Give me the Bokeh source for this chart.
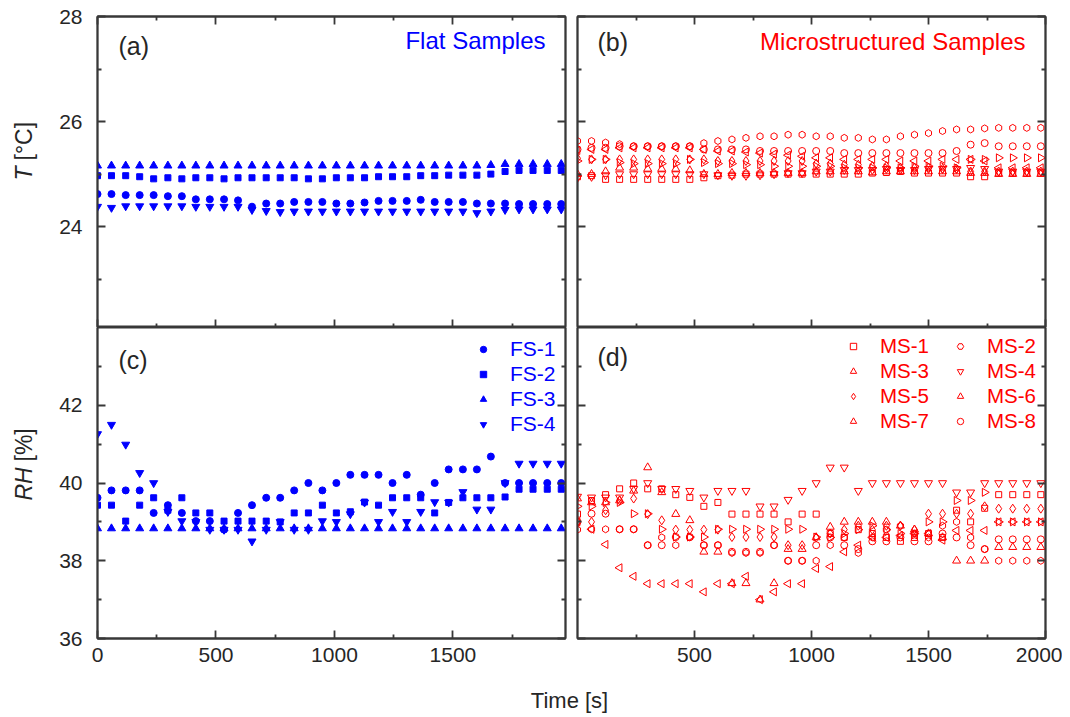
from math import pi
from bokeh.plotting import figure
from bokeh.models import Range1d, LinearAxis, FixedTicker, Label, Legend, LegendItem, CustomLabelingPolicy
from bokeh.layouts import column, row
from bokeh.embed import file_html
from bokeh.resources import INLINE

# ---------------- data ----------------
t_fs = [0, 59, 119, 178, 237, 297, 356, 415, 474, 534, 593, 652, 712, 771, 830, 890, 949,
        1008, 1067, 1127, 1186, 1245, 1305, 1364, 1423, 1482, 1542, 1601, 1660, 1720, 1779, 1838, 1898, 1957]
t_ms = [0, 60, 120, 180, 240, 300, 360, 420, 480, 540, 600, 660, 720, 780, 840, 900, 960,
        1020, 1080, 1140, 1200, 1260, 1320, 1380, 1440, 1500, 1560, 1620, 1680, 1740, 1800, 1860, 1920, 1980]

fs1_T = [24.62, 24.62, 24.60, 24.60, 24.60, 24.58, 24.58, 24.52, 24.52, 24.52, 24.50, 24.38, 24.44, 24.44, 24.47, 24.47, 24.47,
         24.44, 24.44, 24.46, 24.49, 24.49, 24.49, 24.51, 24.47, 24.47, 24.47, 24.44, 24.44, 24.44, 24.43, 24.43, 24.43, 24.43]
fs2_T = [24.97, 24.97, 24.97, 24.95, 24.91, 24.93, 24.91, 24.93, 24.93, 24.91, 24.93, 24.93, 24.93, 24.93, 24.93, 24.91, 24.91,
         24.93, 24.93, 24.93, 24.95, 24.95, 24.95, 24.97, 24.97, 24.98, 24.98, 24.98, 25.00, 25.05, 25.07, 25.07, 25.07, 25.07]
fs3_T = [25.16, 25.16, 25.16, 25.16, 25.16, 25.16, 25.16, 25.16, 25.16, 25.16, 25.16, 25.16, 25.16, 25.16, 25.16, 25.16, 25.16,
         25.16, 25.16, 25.16, 25.16, 25.16, 25.16, 25.16, 25.16, 25.16, 25.16, 25.16, 25.17, 25.19, 25.19, 25.19, 25.19, 25.19]
fs4_T = [24.38, 24.36, 24.39, 24.39, 24.39, 24.39, 24.39, 24.38, 24.38, 24.38, 24.38, 24.32, 24.30, 24.28, 24.29, 24.29, 24.29,
         24.29, 24.29, 24.29, 24.29, 24.29, 24.29, 24.29, 24.29, 24.29, 24.29, 24.26, 24.29, 24.32, 24.33, 24.33, 24.33, 24.33]

fs1_RH = [39.62, 39.81, 39.81, 39.81, 39.23, 39.43, 39.23, 39.02, 39.02, 38.80, 39.23, 39.43, 39.62, 39.62, 39.81, 40.00, 39.81,
          40.00, 40.21, 40.21, 40.21, 40.00, 40.21, 39.70, 40.00, 40.35, 40.35, 40.35, 40.68, 40.00, 40.00, 40.00, 40.00, 40.00]
fs2_RH = [39.43, 39.43, 39.02, 39.43, 39.62, 39.30, 39.62, 39.23, 39.23, 39.02, 39.02, 39.02, 39.02, 39.00, 39.23, 39.23, 39.43,
          39.23, 39.26, 39.51, 39.43, 39.62, 39.62, 39.62, 39.23, 39.50, 39.62, 39.62, 39.62, 39.64, 39.84, 39.84, 39.84, 39.84]
fs3_RH = [38.83, 38.83, 38.83, 38.83, 38.83, 38.83, 38.83, 38.83, 38.83, 38.83, 38.83, 38.83, 38.83, 38.83, 38.83, 38.83, 38.83,
          38.83, 38.83, 38.83, 38.83, 38.83, 38.83, 38.83, 38.83, 38.83, 38.83, 38.83, 38.83, 38.83, 38.83, 38.83, 38.83, 38.83]
fs4_RH = [41.26, 41.50, 40.99, 40.26, 40.00, 39.26, 39.02, 39.00, 38.80, 38.80, 38.80, 38.50, 38.80, 39.00, 38.80, 38.80, 39.02,
          39.00, 39.20, 39.50, 39.00, 39.26, 39.00, 39.26, 39.51, 39.50, 39.77, 39.32, 39.32, 40.00, 40.50, 40.50, 40.50, 40.50]

ms1_T = [24.95, 24.97, 24.90, 24.90, 24.90, 24.90, 24.90, 24.90, 24.90, 24.93, 24.97, 24.98, 25.00, 25.00, 25.00, 25.00, 25.00,
         25.00, 25.00, 25.00, 25.00, 25.02, 25.03, 25.05, 25.02, 25.02, 25.02, 25.02, 24.95, 24.95, 25.02, 25.02, 25.02, 25.02]
ms2_T = [25.63, 25.63, 25.60, 25.57, 25.53, 25.53, 25.53, 25.53, 25.53, 25.59, 25.63, 25.66, 25.69, 25.72, 25.72, 25.75, 25.75,
         25.72, 25.72, 25.69, 25.69, 25.66, 25.66, 25.72, 25.75, 25.78, 25.82, 25.85, 25.85, 25.87, 25.88, 25.88, 25.88, 25.88]
ms3_T = [25.00, 25.00, 25.05, 25.12, 25.12, 25.10, 25.10, 25.10, 25.07, 25.00, 25.00, 25.02, 25.02, 25.02, 25.02, 25.02, 25.02,
         25.05, 25.05, 25.05, 25.05, 25.03, 25.05, 25.05, 25.05, 25.05, 25.05, 25.05, 25.02, 25.02, 25.00, 25.00, 25.00, 25.00]
ms4_T = [24.93, 24.95, 24.98, 25.00, 25.00, 25.00, 25.00, 25.00, 25.00, 25.00, 24.98, 24.97, 24.97, 24.98, 25.00, 25.02, 25.02,
         25.05, 25.05, 25.08, 25.08, 25.08, 25.10, 25.08, 25.08, 25.10, 25.10, 25.10, 25.12, 25.10, 25.05, 25.05, 25.05, 25.05]
ms5_T = [25.30, 25.28, 25.28, 25.28, 25.28, 25.28, 25.28, 25.28, 25.28, 25.28, 25.25, 25.25, 25.25, 25.25, 25.25, 25.25, 25.25,
         25.20, 25.20, 25.18, 25.18, 25.15, 25.15, 25.12, 25.12, 25.12, 25.10, 25.10, 25.05, 25.05, 25.05, 25.05, 25.05, 25.05]
ms6_T = [25.45, 25.47, 25.47, 25.50, 25.50, 25.50, 25.50, 25.50, 25.50, 25.47, 25.44, 25.44, 25.42, 25.40, 25.38, 25.36, 25.34,
         25.31, 25.31, 25.28, 25.28, 25.28, 25.28, 25.25, 25.25, 25.25, 25.28, 25.28, 25.28, 25.25, 25.12, 25.12, 25.12, 25.12]
ms7_T = [25.25, 25.28, 25.28, 25.22, 25.20, 25.20, 25.20, 25.20, 25.28, 25.22, 25.20, 25.20, 25.18, 25.18, 25.15, 25.15, 25.15,
         25.15, 25.15, 25.12, 25.12, 25.12, 25.12, 25.12, 25.15, 25.15, 25.15, 25.12, 25.28, 25.28, 25.31, 25.31, 25.31, 25.31]
ms8_T = [25.47, 25.50, 25.50, 25.53, 25.53, 25.53, 25.53, 25.53, 25.53, 25.47, 25.47, 25.47, 25.47, 25.44, 25.44, 25.44, 25.44,
         25.44, 25.44, 25.40, 25.40, 25.40, 25.40, 25.40, 25.40, 25.40, 25.40, 25.44, 25.56, 25.59, 25.53, 25.53, 25.53, 25.53]

ms1_RH = [39.20, 39.55, 39.70, 39.85, 40.00, 39.85, 39.85, 39.70, 39.63, 39.40, 39.50, 39.20, 39.20, 39.20, 39.20, 39.00, 39.20,
          39.20, 38.70, 38.60, 38.80, 38.70, 38.60, 38.50, 38.60, 38.70, 38.60, 39.30, 39.00, 39.35, 39.70, 39.70, 39.70, 39.70]
ms2_RH = [38.80, 38.81, 38.81, 38.81, 38.81, 38.40, 38.60, 38.40, 38.60, 38.40, 38.40, 38.20, 38.20, 38.20, 38.40, 38.00, 38.00,
          38.00, 38.40, 38.60, 38.20, 38.60, 38.80, 38.90, 38.70, 38.60, 38.90, 39.00, 38.60, 38.30, 38.00, 38.00, 38.00, 38.00]
ms3_RH = [39.60, 39.50, 39.50, 39.55, 39.80, 40.40, 39.76, 39.20, 39.04, 38.23, 38.23, 37.42, 37.42, 37.00, 37.42, 38.30, 38.30,
          38.60, 38.87, 39.00, 39.00, 39.00, 39.00, 38.90, 38.80, 38.70, 38.60, 38.00, 38.00, 38.00, 38.35, 38.35, 38.35, 38.35]
ms4_RH = [39.65, 39.63, 39.63, 39.63, 39.85, 40.00, 39.85, 39.85, 39.80, 39.63, 39.80, 39.80, 39.80, 39.40, 39.40, 39.57, 39.80,
          40.00, 40.40, 40.40, 39.80, 40.00, 40.00, 40.00, 40.00, 40.00, 40.00, 39.76, 39.76, 40.00, 40.00, 40.00, 40.00, 40.00]
ms5_RH = [39.00, 39.00, 39.30, 39.55, 39.60, 39.20, 39.04, 38.80, 38.80, 38.80, 38.80, 38.61, 38.61, 38.61, 38.61, 38.40, 38.40,
          38.60, 38.70, 38.80, 38.90, 38.80, 38.90, 38.90, 38.80, 39.21, 39.21, 39.21, 39.21, 39.40, 39.34, 39.34, 39.34, 39.34]
ms6_RH = [39.00, 38.81, 38.42, 37.82, 37.60, 37.41, 37.41, 37.41, 37.41, 37.20, 37.41, 37.41, 37.60, 37.00, 37.20, 37.41, 37.41,
          37.80, 37.85, 38.23, 38.40, 38.60, 38.60, 38.65, 38.70, 38.70, 38.53, 38.78, 38.78, 38.78, 39.00, 39.00, 39.00, 39.00]
ms7_RH = [39.40, 39.40, 39.50, 39.50, 39.21, 39.21, 38.81, 38.61, 38.61, 38.61, 38.81, 38.81, 38.81, 38.81, 38.81, 38.81, 38.81,
          38.61, 38.60, 38.70, 38.80, 38.90, 38.80, 38.70, 38.70, 39.00, 39.00, 39.55, 39.55, 39.76, 39.00, 39.00, 39.00, 39.00]
ms8_RH = [39.00, 39.21, 39.21, 38.81, 38.81, 38.40, 38.40, 38.61, 38.61, 38.40, 38.40, 38.23, 38.23, 38.23, 38.40, 38.00, 38.00,
          38.40, 38.60, 38.40, 38.30, 38.50, 38.50, 38.60, 38.50, 38.50, 38.70, 38.60, 38.40, 38.30, 38.55, 38.55, 38.55, 38.55]

fs_labels = ["FS-1", "FS-2", "FS-3", "FS-4"]
ms_labels = ["MS-1", "MS-2", "MS-3", "MS-4", "MS-5", "MS-6", "MS-7", "MS-8"]
x_ticks_left = [0, 500, 1000, 1500]
x_ticks_right = [500, 1000, 1500, 2000]
x_minor = [250, 750, 1250, 1750]
T_ticks = [24, 26, 28]
T_minor = [23, 25, 27]
RH_ticks = [36, 38, 40, 42]
RH_minor = [37, 39, 41, 43]

# ---------------- style ----------------
FONT = "Liberation Sans"
AX = "#383838"
TXT = "#262626"
BLUE = "#0000FF"
RED = "#FF0000"
LW = 1.8
NO_LABELS = CustomLabelingPolicy(code="return []")


def make_fig(w, h, xr, yr, mb):
    p = figure(width=w, height=h, x_range=Range1d(*xr), y_range=Range1d(*yr),
               output_backend="svg", toolbar_location=None,
               x_axis_location=None, y_axis_location=None,
               min_border_left=mb[0], min_border_right=mb[1],
               min_border_top=mb[2], min_border_bottom=mb[3])
    p.grid.visible = False
    p.outline_line_color = AX
    p.outline_line_width = LW
    p.background_fill_color = "white"
    p.border_fill_color = "white"
    return p


def blank_fig(w, h, mb=(0, 0, 0, 0)):
    p = figure(width=w, height=h, x_range=Range1d(0, 1), y_range=Range1d(0, 1),
               output_backend="svg", toolbar_location=None,
               x_axis_location=None, y_axis_location=None,
               min_border_left=mb[0], min_border_right=mb[1],
               min_border_top=mb[2], min_border_bottom=mb[3])
    p.grid.visible = False
    p.outline_line_color = None
    return p


def add_axis(p, side, ticks, minor, labels=False, standoff=0):
    ax = LinearAxis(ticker=FixedTicker(ticks=ticks, minor_ticks=minor))
    ax.axis_line_color = AX
    ax.axis_line_width = LW
    ax.major_tick_line_color = AX
    ax.major_tick_line_width = LW
    ax.minor_tick_line_color = AX
    ax.minor_tick_line_width = LW
    ax.major_tick_in = 8
    ax.major_tick_out = 0
    ax.minor_tick_in = 4
    ax.minor_tick_out = 0
    ax.major_label_text_font = FONT
    ax.major_label_text_color = TXT
    if labels:
        ax.major_label_text_font_size = "21px"
        ax.major_label_standoff = standoff
    else:
        ax.major_label_text_font_size = "0px"
        ax.major_label_policy = NO_LABELS
        ax.major_label_standoff = 0
    p.add_layout(ax, side)
    return ax


def text_label(p, x, y, text, size, color=TXT, align="left", baseline="middle", angle=0.0, style="normal"):
    lab = Label(x=x, y=y, x_units="screen", y_units="screen", text=text,
                text_font=FONT, text_font_size=size, text_color=color,
                text_align=align, text_baseline=baseline, angle=angle,
                text_font_style=style)
    p.add_layout(lab)
    return lab


XL = (0, 1975)
XR = (0, 2000)
YT = (22.08, 28)
YB = (36, 44)

p_a = make_fig(531, 327, XL, YT, (57, 6, 16, 0))
p_b = make_fig(491, 327, XR, YT, (6, 17, 16, 0))
p_c = make_fig(531, 351, XL, YB, (57, 6, 0, 40))
p_d = make_fig(491, 351, XR, YB, (6, 17, 0, 40))

# axes
add_axis(p_a, "left", T_ticks, T_minor, True, 15)
add_axis(p_a, "right", T_ticks, T_minor)
add_axis(p_a, "above", x_ticks_left, x_minor)
add_axis(p_a, "below", x_ticks_left, x_minor)

add_axis(p_b, "left", T_ticks, T_minor)
add_axis(p_b, "right", T_ticks, T_minor)
add_axis(p_b, "above", x_ticks_right, x_minor)
add_axis(p_b, "below", x_ticks_right, x_minor)

add_axis(p_c, "left", RH_ticks, RH_minor, True, 15)
add_axis(p_c, "right", RH_ticks, RH_minor)
add_axis(p_c, "below", x_ticks_left, x_minor, True, 9)

add_axis(p_d, "left", RH_ticks, RH_minor)
add_axis(p_d, "right", RH_ticks, RH_minor)
add_axis(p_d, "below", x_ticks_right, x_minor, True, 9)

# flat samples (filled blue)
fs_T = [fs1_T, fs2_T, fs3_T, fs4_T]
fs_RH = [fs1_RH, fs2_RH, fs3_RH, fs4_RH]
fs_markers = [("circle", 7, 0.0), ("square", 6, 0.0), ("triangle", 8, 0.0), ("inverted_triangle", 8, 0.0)]
fs_rends = []
for yT, yR, (mk, sz, ang) in zip(fs_T, fs_RH, fs_markers):
    p_a.scatter(t_fs, yT, marker=mk, size=sz, angle=ang, fill_color=BLUE, line_color=BLUE, line_width=1)
    r = p_c.scatter(t_fs, yR, marker=mk, size=sz, angle=ang, fill_color=BLUE, line_color=BLUE, line_width=1)
    fs_rends.append(r)

# microstructured samples (open red)
ms_T = [ms1_T, ms2_T, ms3_T, ms4_T, ms5_T, ms6_T, ms7_T, ms8_T]
ms_RH = [ms1_RH, ms2_RH, ms3_RH, ms4_RH, ms5_RH, ms6_RH, ms7_RH, ms8_RH]
ms_markers = [("square", 6, 0.0), ("hex", 7, pi / 2), ("triangle", 8, 0.0), ("inverted_triangle", 8, 0.0),
              ("diamond", 9, 0.0), ("triangle", 8, pi / 2), ("triangle", 8, -pi / 2), ("circle", 7, 0.0)]
ms_rends = []
for yT, yR, (mk, sz, ang) in zip(ms_T, ms_RH, ms_markers):
    p_b.scatter(t_ms, yT, marker=mk, size=sz, angle=ang, fill_color=None, line_color=RED, line_width=1)
    r = p_d.scatter(t_ms, yR, marker=mk, size=sz, angle=ang, fill_color=None, line_color=RED, line_width=1)
    ms_rends.append(r)


def make_legend(items, loc, color, standoff, size):
    leg = Legend(items=items, location=loc)
    leg.label_text_font = FONT
    leg.label_text_font_size = size
    leg.label_text_color = color
    leg.glyph_width = 16
    leg.glyph_height = 16
    leg.label_height = 20
    leg.label_standoff = standoff
    leg.spacing = 1
    leg.padding = 0
    leg.margin = 0
    leg.border_line_color = None
    leg.background_fill_alpha = 0
    return leg


leg_c = make_legend([LegendItem(label=l, renderers=[r]) for l, r in zip(fs_labels, fs_rends)], (378, 202), BLUE, 19, "21px")
p_c.add_layout(leg_c, "center")
leg_d1 = make_legend([LegendItem(label=ms_labels[i], renderers=[ms_rends[i]]) for i in (0, 2, 4, 6)], (268, 205), RED, 19, "20.5px")
leg_d2 = make_legend([LegendItem(label=ms_labels[i], renderers=[ms_rends[i]]) for i in (1, 3, 5, 7)], (375, 205), RED, 19, "20.5px")
p_d.add_layout(leg_d1, "center")
p_d.add_layout(leg_d2, "center")

# panel texts
text_label(p_a, 21, 282, "(a)", "25px")
text_label(p_a, 448, 287, "Flat Samples", "24px", color=BLUE, align="right")
text_label(p_b, 20, 286, "(b)", "25px")
text_label(p_b, 448, 286, "Microstructured Samples", "24px", color=RED, align="right")
text_label(p_c, 21, 279, "(c)", "25px")
text_label(p_d, 20, 282, "(d)", "25px")

# y-axis titles (italic symbol + unit) in narrow side figures, frames aligned with the panels
p_yt = blank_fig(40, 327, (0, 0, 16, 0))
p_yb = blank_fig(40, 351, (0, 0, 0, 40))
text_label(p_yt, 23, 147, "T", "23px", angle=pi / 2, style="italic")
text_label(p_yt, 23, 167, "[\u00b0C]", "23px", angle=pi / 2)
text_label(p_yb, 23, 138, "RH", "23px", angle=pi / 2, style="italic")
text_label(p_yb, 23, 177, "[%]", "23px", angle=pi / 2)

# shared x-axis title
p_x = blank_fig(1062, 39)
text_label(p_x, 569, 17, "Time [s]", "22px", align="center")

layout = column(row(p_yt, p_a, p_b), row(p_yb, p_c, p_d), p_x)

with open("out.html", "w") as f:
    f.write(file_html(layout, INLINE))
